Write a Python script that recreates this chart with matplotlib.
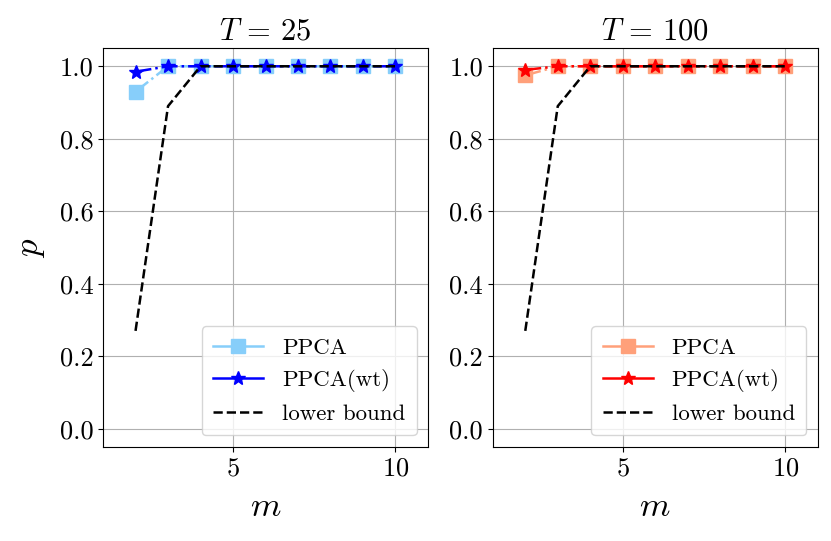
import matplotlib
matplotlib.use("Agg")
import matplotlib.pyplot as plt
from matplotlib.lines import Line2D

plt.rcParams["font.family"] = "serif"
plt.rcParams["font.serif"] = ["cmr10"]
plt.rcParams["mathtext.fontset"] = "cm"
plt.rcParams["axes.formatter.use_mathtext"] = True

m = [2, 3, 4, 5, 6, 7, 8, 9, 10]
lower_bound = [0.27, 0.89, 1.0, 1.0, 1.0, 1.0, 1.0, 1.0, 1.0]

ppca_25 = [0.93, 1.0, 1.0, 1.0, 1.0, 1.0, 1.0, 1.0, 1.0]
ppca_wt_25 = [0.985, 1.0, 1.0, 1.0, 1.0, 1.0, 1.0, 1.0, 1.0]
ppca_100 = [0.975, 1.0, 1.0, 1.0, 1.0, 1.0, 1.0, 1.0, 1.0]
ppca_wt_100 = [0.99, 1.0, 1.0, 1.0, 1.0, 1.0, 1.0, 1.0, 1.0]

panels = [
    (r"$T\,=\,25$", ppca_25, ppca_wt_25, "lightskyblue", "blue"),
    (r"$T\,=\,100$", ppca_100, ppca_wt_100, "lightsalmon", "red"),
]

fig = plt.figure(figsize=(8.31, 5.41), dpi=100)
boxes = [[0.124, 0.174, 0.391, 0.737], [0.593, 0.174, 0.391, 0.737]]

for i, (title, p1, p2, c1, c2) in enumerate(panels):
    ax = fig.add_axes(boxes[i])
    ax.grid(True, color="#b0b0b0", linewidth=0.8)
    ax.set_axisbelow(True)
    ax.plot(m, p1, "-.", color=c1, marker="s", markersize=10, linewidth=1.8)
    ax.plot(m, p2, "-.", color=c2, marker="*", markersize=10, linewidth=1.8)
    ax.plot(m, lower_bound, "--", color="black", linewidth=1.8)
    ax.set_xlim(1, 11)
    ax.set_ylim(-0.05, 1.05)
    ax.set_xticks([5, 10])
    ax.set_yticks([0.0, 0.2, 0.4, 0.6, 0.8, 1.0])
    ax.set_yticklabels(["0.0", "0.2", "0.4", "0.6", "0.8", "1.0"])
    ax.tick_params(labelsize=19)
    ax.set_title(title, fontsize=22)
    ax.set_xlabel("$m$", fontsize=25, labelpad=8)
    if i == 0:
        ax.set_ylabel("$p$", fontsize=25, labelpad=9)
    handles = [
        Line2D([], [], color=c1, marker="s", markersize=10, linewidth=1.8),
        Line2D([], [], color=c2, marker="*", markersize=10, linewidth=1.8),
        Line2D([], [], color="black", linestyle="--", linewidth=1.8),
    ]
    ax.legend(handles, ["PPCA", "PPCA(wt)", "lower bound"], loc="lower right",
              fontsize=16.5, handlelength=2.2, borderpad=0.5)

fig.savefig("out.png", dpi=100)
